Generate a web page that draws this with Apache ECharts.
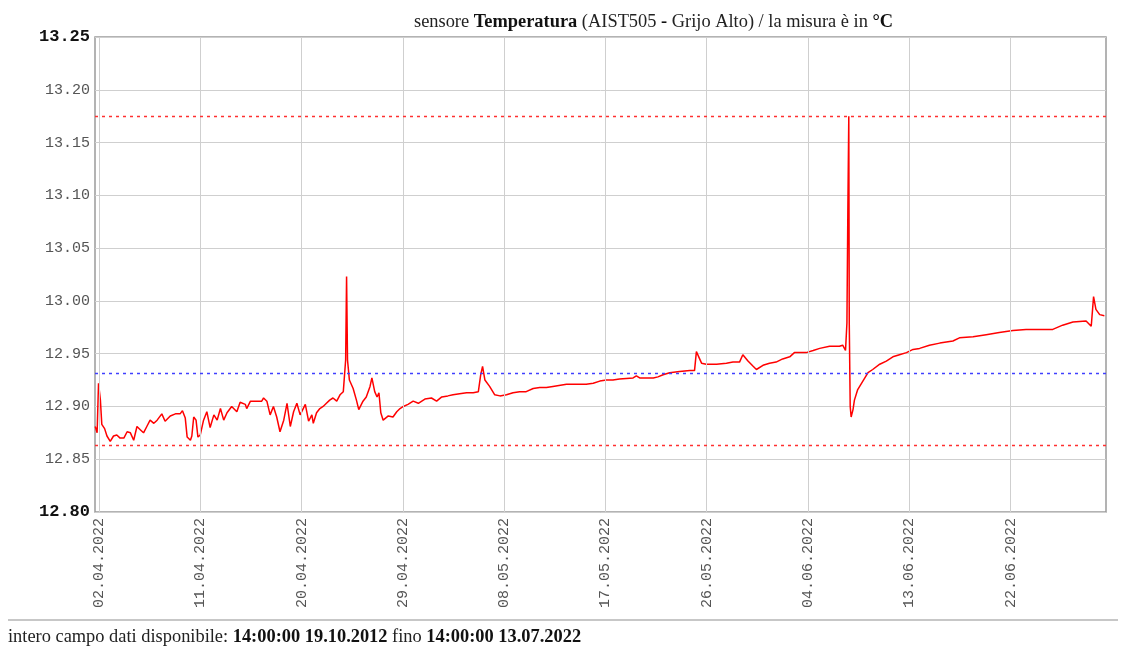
<!DOCTYPE html>
<html>
<head>
<meta charset="utf-8">
<title>sensore Temperatura</title>
<script src="https://cdn.jsdelivr.net/npm/echarts@6/dist/echarts.min.js"></script>
<style>
  html, body { margin: 0; padding: 0; background: #fff; }
  #chart { width: 1124px; height: 653px; }
</style>
</head>
<body>
<div id="chart"></div>
<script>
// measurement times (local) and temperatures in °C
const times = [
  '2022-04-01 16:00', '2022-04-01 20:00', '2022-04-01 23:00', '2022-04-02 03:00', '2022-04-02 06:00',
  '2022-04-02 12:00', '2022-04-02 17:00', '2022-04-03 00:00', '2022-04-03 07:00', '2022-04-03 14:00',
  '2022-04-03 21:00', '2022-04-04 05:00', '2022-04-04 12:00', '2022-04-04 19:00', '2022-04-05 02:00',
  '2022-04-05 09:00', '2022-04-05 16:00', '2022-04-05 23:00', '2022-04-06 06:00', '2022-04-06 13:00',
  '2022-04-06 21:00', '2022-04-07 04:00', '2022-04-07 14:00', '2022-04-07 21:00', '2022-04-08 08:00',
  '2022-04-08 19:00', '2022-04-09 05:00', '2022-04-09 10:00', '2022-04-09 16:00', '2022-04-09 20:00',
  '2022-04-10 03:00', '2022-04-10 06:00', '2022-04-10 10:00', '2022-04-10 15:00', '2022-04-10 19:00',
  '2022-04-11 00:00', '2022-04-11 07:00', '2022-04-11 14:00', '2022-04-11 21:00', '2022-04-12 05:00',
  '2022-04-12 12:00', '2022-04-12 19:00', '2022-04-13 02:00', '2022-04-13 09:00', '2022-04-13 19:00',
  '2022-04-14 06:00', '2022-04-14 13:00', '2022-04-15 00:00', '2022-04-15 03:00', '2022-04-15 11:00',
  '2022-04-16 11:00', '2022-04-16 15:00', '2022-04-16 22:00', '2022-04-17 05:00', '2022-04-17 12:00',
  '2022-04-17 19:00', '2022-04-18 02:00', '2022-04-18 10:00', '2022-04-18 17:00', '2022-04-19 00:00',
  '2022-04-19 07:00', '2022-04-19 14:00', '2022-04-19 21:00', '2022-04-20 08:00', '2022-04-20 15:00',
  '2022-04-20 22:00', '2022-04-21 01:00', '2022-04-21 08:00', '2022-04-21 15:00', '2022-04-21 22:00',
  '2022-04-22 05:00', '2022-04-22 12:00', '2022-04-22 19:00', '2022-04-23 03:00', '2022-04-23 10:00',
  '2022-04-23 17:00', '2022-04-23 22:00', '2022-04-24 00:00', '2022-04-24 02:00', '2022-04-24 06:00',
  '2022-04-24 14:00', '2022-04-24 21:00', '2022-04-25 02:00', '2022-04-25 11:00', '2022-04-25 18:00',
  '2022-04-26 02:00', '2022-04-26 06:00', '2022-04-26 12:00', '2022-04-26 17:00', '2022-04-26 21:00',
  '2022-04-27 01:00', '2022-04-27 06:00', '2022-04-27 17:00', '2022-04-28 03:00', '2022-04-28 11:00',
  '2022-04-28 18:00', '2022-04-29 01:00', '2022-04-29 11:00', '2022-04-29 22:00', '2022-04-30 09:00',
  '2022-04-30 23:00', '2022-05-01 13:00', '2022-05-02 00:00', '2022-05-02 11:00', '2022-05-03 00:00',
  '2022-05-03 11:00', '2022-05-04 01:00', '2022-05-04 16:00', '2022-05-05 06:00', '2022-05-05 17:00',
  '2022-05-05 22:00', '2022-05-06 02:00', '2022-05-06 07:00', '2022-05-06 17:00', '2022-05-07 04:00',
  '2022-05-07 15:00', '2022-05-08 05:00', '2022-05-08 19:00', '2022-05-09 09:00', '2022-05-09 23:00',
  '2022-05-10 14:00', '2022-05-11 04:00', '2022-05-11 18:00', '2022-05-12 08:00', '2022-05-13 13:00',
  '2022-05-14 10:00', '2022-05-15 07:00', '2022-05-15 22:00', '2022-05-16 12:00', '2022-05-17 02:00',
  '2022-05-17 16:00', '2022-05-18 06:00', '2022-05-19 11:00', '2022-05-19 18:00', '2022-05-20 01:00',
  '2022-05-21 06:00', '2022-05-21 16:00', '2022-05-22 03:00', '2022-05-22 17:00', '2022-05-23 14:00',
  '2022-05-24 12:00', '2022-05-24 22:00', '2022-05-25 02:00', '2022-05-25 07:00', '2022-05-25 13:00',
  '2022-05-25 23:00', '2022-05-26 21:00', '2022-05-27 18:00', '2022-05-28 08:00', '2022-05-28 22:00',
  '2022-05-29 05:00', '2022-05-29 16:00', '2022-05-30 03:00', '2022-05-30 10:00', '2022-05-31 00:00',
  '2022-05-31 14:00', '2022-06-01 04:00', '2022-06-01 18:00', '2022-06-02 09:00', '2022-06-02 19:00',
  '2022-06-03 06:00', '2022-06-03 20:00', '2022-06-04 11:00', '2022-06-05 01:00', '2022-06-05 22:00',
  '2022-06-06 19:00', '2022-06-07 02:00', '2022-06-07 08:00', '2022-06-07 11:00', '2022-06-07 13:00',
  '2022-06-07 15:00', '2022-06-07 16:00', '2022-06-07 18:00', '2022-06-07 20:00', '2022-06-08 00:00',
  '2022-06-08 03:00', '2022-06-08 10:00', '2022-06-08 21:00', '2022-06-09 08:00', '2022-06-09 18:00',
  '2022-06-10 09:00', '2022-06-10 23:00', '2022-06-11 13:00', '2022-06-12 03:00', '2022-06-12 18:00',
  '2022-06-13 08:00', '2022-06-13 22:00', '2022-06-14 19:00', '2022-06-15 17:00', '2022-06-16 21:00',
  '2022-06-17 11:00', '2022-06-18 16:00', '2022-06-19 20:00', '2022-06-21 00:00', '2022-06-22 05:00',
  '2022-06-23 09:00', '2022-06-24 14:00', '2022-06-25 18:00', '2022-06-26 15:00', '2022-06-27 13:00',
  '2022-06-28 17:00', '2022-06-29 04:00', '2022-06-29 09:00', '2022-06-29 14:00', '2022-06-29 22:00',
  '2022-06-30 08:00'
];
const values = [
  12.881, 12.875, 12.922, 12.906, 12.883,
  12.879, 12.872, 12.867, 12.872, 12.873,
  12.870, 12.870, 12.876, 12.875, 12.868,
  12.881, 12.878, 12.875, 12.881, 12.887,
  12.884, 12.887, 12.893, 12.886, 12.891,
  12.893, 12.893, 12.896, 12.889, 12.871,
  12.868, 12.872, 12.890, 12.887, 12.871,
  12.873, 12.887, 12.895, 12.880, 12.892,
  12.887, 12.898, 12.887, 12.894, 12.900,
  12.895, 12.904, 12.902, 12.898, 12.905,
  12.905, 12.908, 12.905, 12.892, 12.900,
  12.890, 12.876, 12.887, 12.903, 12.881,
  12.895, 12.903, 12.892, 12.902, 12.886,
  12.892, 12.884, 12.894, 12.898, 12.900,
  12.903, 12.906, 12.908, 12.905, 12.911,
  12.914, 12.944, 13.023, 12.944, 12.925,
  12.917, 12.906, 12.897, 12.905, 12.909,
  12.919, 12.927, 12.914, 12.909, 12.913,
  12.894, 12.887, 12.891, 12.890, 12.895,
  12.898, 12.900, 12.902, 12.905, 12.903,
  12.907, 12.908, 12.905, 12.909, 12.910,
  12.911, 12.912, 12.913, 12.913, 12.914,
  12.930, 12.938, 12.925, 12.919, 12.911,
  12.910, 12.911, 12.913, 12.914, 12.914,
  12.917, 12.918, 12.918, 12.919, 12.921,
  12.921, 12.921, 12.922, 12.924, 12.925,
  12.925, 12.926, 12.927, 12.929, 12.927,
  12.927, 12.928, 12.930, 12.932, 12.933,
  12.934, 12.934, 12.952, 12.947, 12.941,
  12.940, 12.940, 12.941, 12.942, 12.942,
  12.949, 12.943, 12.938, 12.935, 12.939,
  12.941, 12.942, 12.945, 12.947, 12.951,
  12.951, 12.951, 12.953, 12.955, 12.957,
  12.957, 12.958, 12.953, 12.979, 13.087,
  13.175, 12.979, 12.900, 12.890, 12.897,
  12.906, 12.916, 12.924, 12.932, 12.935,
  12.940, 12.943, 12.947, 12.949, 12.951,
  12.954, 12.955, 12.958, 12.960, 12.962,
  12.965, 12.966, 12.968, 12.970, 12.972,
  12.973, 12.973, 12.973, 12.977, 12.980,
  12.981, 12.976, 13.004, 12.992, 12.987,
  12.986
];
const tickDates = [
  '2022-04-02', '2022-04-11', '2022-04-20', '2022-04-29', '2022-05-08',
  '2022-05-17', '2022-05-26', '2022-06-04', '2022-06-13', '2022-06-22'
];
const upperLimit = 13.175;
const lowerLimit = 12.8636;
const meanValue = 12.9316;
const rangeStart = '2022-04-01 15:30';
const rangeEnd = '2022-06-30 11:30';

function toTime(s) {
  return new Date((s.length === 10 ? s + ' 00:00' : s).replace(' ', 'T')).getTime();
}
function pad(n) {
  return n < 10 ? '0' + n : '' + n;
}

const tickTimes = tickDates.map(toTime);
const seriesData = times.map((t, i) => [toTime(t), values[i]]);

const serifNormal = { fontFamily: 'Liberation Serif', fontSize: 18.4, fontWeight: 'normal', color: '#222' };
const serifBold = { fontFamily: 'Liberation Serif', fontSize: 18.4, fontWeight: 'bold', color: '#111' };

const chart = echarts.init(document.getElementById('chart'));
chart.setOption({
  animation: false,
  backgroundColor: '#fff',
  title: {
    text: '{n|sensore }{b|Temperatura}{n| (AIST505 }{b|-}{n| Grijo Alto) / la misura è in }{b|°C}',
    left: 409,
    top: 8,
    textStyle: {
      fontWeight: 'normal',
      rich: { n: serifNormal, b: serifBold },
    },
  },
  grid: {
    left: 95,
    right: 18,
    top: 37,
    bottom: 141,
    show: true,
    borderColor: '#9a9a9a',
    borderWidth: 1.5,
  },
  xAxis: {
    // timestamps on a plain value axis so the date ticks can be placed freely
    type: 'value',
    min: toTime(rangeStart),
    max: toTime(rangeEnd),
    axisLine: { show: false },
    axisTick: { show: false, customValues: tickTimes },
    splitLine: { show: false },
    axisLabel: {
      customValues: tickTimes,
      rotate: 90,
      margin: 6,
      fontFamily: 'Liberation Mono',
      fontSize: 15,
      color: '#555',
      formatter: (value) => {
        const d = new Date(value);
        return pad(d.getDate()) + '.' + pad(d.getMonth() + 1) + '.' + d.getFullYear();
      },
    },
  },
  yAxis: {
    type: 'value',
    min: 12.8,
    max: 13.25,
    interval: 0.05,
    axisLine: { show: false },
    axisTick: { show: false },
    splitLine: { lineStyle: { color: '#cfcfcf', width: 1 } },
    axisLabel: {
      margin: 5,
      fontFamily: 'Liberation Mono',
      fontSize: 15,
      color: '#555',
      formatter: (value) => {
        const s = value.toFixed(2);
        if (Math.abs(value - 12.8) < 1e-6 || Math.abs(value - 13.25) < 1e-6) {
          return '{b|' + s + '}';
        }
        return s;
      },
      rich: {
        b: { fontFamily: 'Liberation Mono', fontSize: 17, fontWeight: 'bold', color: '#111' },
      },
    },
  },
  graphic: [
    {
      type: 'line',
      shape: { x1: 8, y1: 620, x2: 1118, y2: 620 },
      style: { stroke: '#b5b5b5', lineWidth: 1.5 },
    },
    {
      type: 'text',
      left: 8,
      top: 628,
      style: {
        text: '{n|intero campo dati disponibile: }{b|14:00:00 19.10.2012}{n| fino }{b|14:00:00 13.07.2022}',
        rich: {
          n: { fontFamily: 'Liberation Serif', fontSize: 18.4, fontWeight: 'normal', fill: '#222' },
          b: { fontFamily: 'Liberation Serif', fontSize: 18.4, fontWeight: 'bold', fill: '#111' },
        },
      },
    },
  ],
  series: [
    {
      // vertical grid lines on the date ticks
      type: 'line',
      data: [],
      z: 1,
      markLine: {
        silent: true,
        symbol: 'none',
        label: { show: false },
        lineStyle: { color: '#cfcfcf', width: 1, type: 'solid' },
        data: tickTimes.map((t) => ({ xAxis: t })),
      },
    },
    {
      type: 'line',
      data: seriesData,
      showSymbol: false,
      z: 3,
      lineStyle: { color: '#ff0000', width: 1.5 },
      markLine: {
        silent: true,
        symbol: 'none',
        precision: 4,
        label: { show: false },
        data: [
          { yAxis: upperLimit, lineStyle: { color: '#ff3030', width: 1.3, type: [3, 4] } },
          { yAxis: lowerLimit, lineStyle: { color: '#ff3030', width: 1.3, type: [3, 4] } },
          { yAxis: meanValue, lineStyle: { color: '#4040ff', width: 1.3, type: [3, 4] } },
        ],
      },
    },
  ],
});
</script>
</body>
</html>
